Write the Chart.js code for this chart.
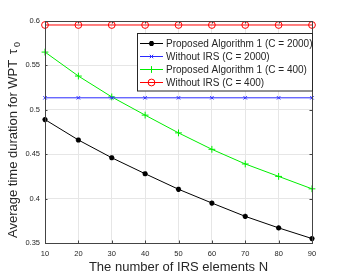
<!DOCTYPE html>
<html><head><meta charset="utf-8">
<script src="https://cdn.jsdelivr.net/npm/chart.js@4/dist/chart.umd.min.js"></script>
<style>html,body{margin:0;padding:0;background:#fff;}#wrap{width:346px;height:277px;}</style>
</head><body><div id="wrap"><canvas id="c" width="346" height="277"></canvas></div>
<script>
const nValues = [10, 20, 30, 40, 50, 60, 70, 80, 90];
const propC2000 = [0.489, 0.466, 0.446, 0.428, 0.4105, 0.395, 0.380, 0.367, 0.355];
const noIrsC2000 = [0.5135, 0.5135, 0.5135, 0.5135, 0.5135, 0.5135, 0.5135, 0.5135, 0.5135];
const propC400 = [0.565, 0.538, 0.5145, 0.494, 0.474, 0.4555, 0.439, 0.425, 0.411];
const noIrsC400 = [0.5955, 0.5955, 0.5955, 0.5955, 0.5955, 0.5955, 0.5955, 0.5955, 0.5955];
const seriesLabels = ['Proposed Algorithm 1 (C = 2000)', 'Without IRS (C = 2000)', 'Proposed Algorithm 1 (C = 400)', 'Without IRS (C = 400)'];
const xTicks = [10, 20, 30, 40, 50, 60, 70, 80, 90];
const yTicks = [0.35, 0.4, 0.45, 0.5, 0.55, 0.6];
const xTitle = 'The number of IRS elements N';
const yTitle = 'Average time duration for WPT ';

const TXT = '#262626';
const FONT = '"Liberation Sans", Arial, sans-serif';
const toPts = arr => arr.map((v, i) => ({x: nValues[i], y: v}));
const styles = [
  {color: '#000000', point: 'star', r: 2.6, pw: 1.6, fill: '#000000'},
  {color: '#2a2aff', point: 'crossRot', r: 2.4, pw: 1, fill: 'rgba(0,0,0,0)'},
  {color: '#00ee00', point: 'cross', r: 3.4, pw: 1, fill: 'rgba(0,0,0,0)'},
  {color: '#ff0000', point: 'circle', r: 3.4, pw: 1, fill: 'rgba(0,0,0,0)'}
];
const series = [propC2000, noIrsC2000, propC400, noIrsC400];
const datasets = series.map((s, i) => ({
  label: seriesLabels[i], data: toPts(s),
  borderColor: styles[i].color, backgroundColor: styles[i].fill,
  borderWidth: 1, pointStyle: styles[i].point, pointRadius: styles[i].r,
  pointBorderWidth: styles[i].pw, pointBorderColor: styles[i].color,
  pointBackgroundColor: styles[i].fill,
  tension: 0, clip: false
}));

const frame = {
  id: 'frame',
  afterDraw(chart) {
    const ctx = chart.ctx, a = chart.chartArea;
    const xs = chart.scales.x, ys = chart.scales.y;
    ctx.save();
    ctx.strokeStyle = '#444';
    ctx.lineWidth = 1;
    ctx.strokeRect(Math.round(a.left) + 0.5, Math.round(a.top) + 0.5, Math.round(a.right - a.left), Math.round(a.bottom - a.top));
    ctx.beginPath();
    xTicks.forEach(t => {
      const x = Math.round(xs.getPixelForValue(t)) + 0.5;
      ctx.moveTo(x, a.bottom); ctx.lineTo(x, a.bottom - 2.5);
      ctx.moveTo(x, a.top); ctx.lineTo(x, a.top + 2.5);
    });
    yTicks.forEach(t => {
      const y = Math.round(ys.getPixelForValue(t)) + 0.5;
      ctx.moveTo(a.left, y); ctx.lineTo(a.left + 2.5, y);
      ctx.moveTo(a.right, y); ctx.lineTo(a.right - 2.5, y);
    });
    ctx.stroke();

    // legend
    const lx = 137.5, ly = 33.5, lw = 175, lh = 57.5;
    ctx.fillStyle = '#fff';
    ctx.fillRect(lx, ly, lw, lh);
    ctx.strokeStyle = '#262626';
    ctx.lineWidth = 1;
    ctx.strokeRect(lx, ly, lw, lh);
    const rows = [43.5, 56.5, 69.5, 82.5];
    datasets.forEach((d, i) => {
      const y = rows[i];
      ctx.strokeStyle = styles[i].color;
      ctx.lineWidth = 1;
      ctx.beginPath(); ctx.moveTo(140, y); ctx.lineTo(163, y); ctx.stroke();
      ctx.strokeStyle = styles[i].color;
      ctx.fillStyle = styles[i].fill;
      ctx.lineWidth = styles[i].pw;
      Chart.helpers.drawPoint(ctx, {pointStyle: styles[i].point, radius: styles[i].r, borderWidth: styles[i].pw}, 151.5, y);
      ctx.fillStyle = TXT;
      ctx.font = '10px ' + FONT;
      ctx.textBaseline = 'middle';
      ctx.textAlign = 'left';
      ctx.fillText(d.label, 166, y + 0.5);
    });

    // x title
    ctx.fillStyle = TXT;
    ctx.font = '13px ' + FONT;
    ctx.textAlign = 'center';
    ctx.textBaseline = 'middle';
    ctx.fillText(xTitle, (a.left + a.right) / 2, 267);

    // y title
    ctx.save();
    ctx.translate(13, 238);
    ctx.rotate(-Math.PI / 2);
    ctx.textAlign = 'left';
    ctx.textBaseline = 'middle';
    ctx.font = '13px ' + FONT;
    ctx.fillText(yTitle, 0, 0);
    let w = ctx.measureText(yTitle).width;
    ctx.fillText('\u03C4', w + 2, 0);
    w += ctx.measureText('\u03C4').width + 4;
    ctx.font = '9px ' + FONT;
    ctx.fillText('0', w, 5);
    ctx.restore();
    ctx.restore();
  }
};

new Chart(document.getElementById('c'), {
  type: 'line',
  data: {datasets},
  options: {
    responsive: false, animation: false, devicePixelRatio: 1,
    layout: {padding: {left: 0, right: 34, top: 21, bottom: 0}},
    plugins: {legend: {display: false}, tooltip: {enabled: false}},
    scales: {
      x: {
        type: 'linear', min: 10, max: 90,
        afterBuildTicks: s => { s.ticks = xTicks.map(v => ({value: v})); },
        afterFit: s => { s.height = 34; },
        grid: {color: '#e6e6e6', lineWidth: 1, drawTicks: false},
        border: {display: false},
        ticks: {font: {family: FONT, size: 7.5}, color: TXT, padding: 6, maxRotation: 0, autoSkip: false}
      },
      y: {
        type: 'linear', min: 0.35, max: 0.6,
        afterBuildTicks: s => { s.ticks = yTicks.map(v => ({value: v})); },
        afterFit: s => { s.width = 45; },
        grid: {color: '#e6e6e6', lineWidth: 1, drawTicks: false},
        border: {display: false},
        ticks: {font: {family: FONT, size: 7.5}, color: TXT, padding: 5, autoSkip: false,
          callback: v => String(Math.round(v * 100) / 100)}
      }
    }
  },
  plugins: [frame]
});
</script>
</body></html>
